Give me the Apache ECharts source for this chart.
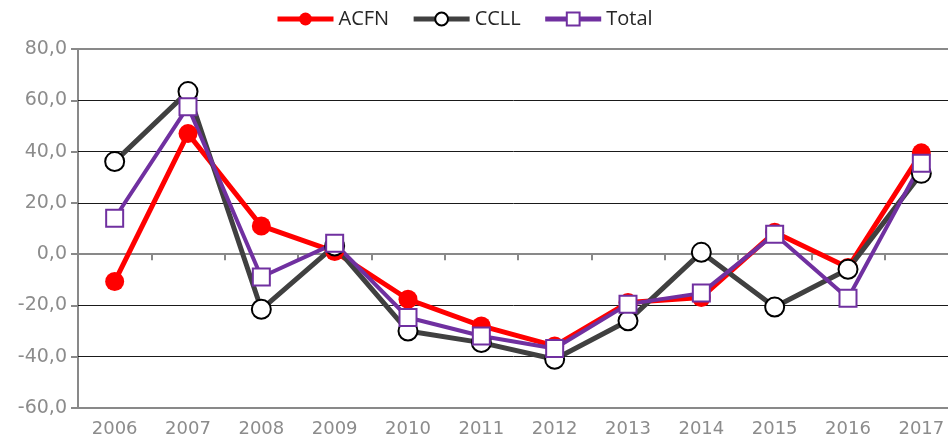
<!DOCTYPE html>
<html>
<head>
<meta charset="utf-8">
<script src="https://cdn.jsdelivr.net/npm/echarts@6/dist/echarts.min.js"></script>
<style>
  html, body { margin: 0; padding: 0; background: #fff; overflow: hidden; }
  #chart { width: 948px; height: 448px; }
</style>
</head>
<body>
<div id="chart"></div>
<script>
const years = ['2006', '2007', '2008', '2009', '2010', '2011', '2012', '2013', '2014', '2015', '2016', '2017']
const acfn = [-10.7, 47.0, 11.0, 1.0, -17.6, -28.0, -35.8, -18.9, -16.9, 8.5, -5.2, 39.5]
const ccll = [36.1, 63.4, -21.5, 3.2, -30.0, -34.5, -41.0, -26.0, 0.7, -20.6, -5.9, 31.5]
const total = [14.0, 57.5, -8.9, 4.2, -24.7, -31.9, -36.8, -19.5, -15.2, 7.8, -17.2, 35.4]

const chart = echarts.init(document.getElementById('chart'))

const gray = '#898989'
const labelFont = { color: '#8c8c8c', fontFamily: 'DejaVu Sans', fontSize: 18 }

chart.setOption({
  animation: false,
  legend: {
    left: 270,
    top: 4,
    itemWidth: 56,
    itemHeight: 16,
    itemGap: 22,
    lineStyle: { width: 5 },
    textStyle: { color: '#262626', fontFamily: 'Open Sans', fontSize: 20 },
    data: ['ACFN', 'CCLL', 'Total']
  },
  grid: {
    left: 78,
    right: -10,
    top: 49,
    bottom: 40,
    outerBoundsMode: 'none',
    containLabel: false,
    show: true,
    borderColor: gray,
    borderWidth: 2
  },
  xAxis: [
    {
      type: 'category',
      data: years,
      position: 'bottom',
      axisLine: { onZero: false, show: false },
      axisTick: { show: false },
      axisLabel: { ...labelFont, margin: 12 },
      splitLine: { show: false }
    },
    {
      type: 'category',
      data: years,
      position: 'bottom',
      axisLine: { onZero: true, lineStyle: { color: gray, width: 2 } },
      axisTick: { show: true, length: 6, lineStyle: { color: gray, width: 2 } },
      axisLabel: { show: false }
    }
  ],
  yAxis: {
    type: 'value',
    min: -60,
    max: 80,
    interval: 20,
    axisLine: { show: false },
    axisTick: { show: true, length: 7, lineStyle: { color: gray, width: 2 } },
    axisLabel: { ...labelFont, fontSize: 19, margin: 11, formatter: (v) => v.toFixed(1).replace('.', ',') },
    splitLine: {
      lineStyle: {
        color: [gray, '#1a1a1a', '#1a1a1a', 'transparent', '#1a1a1a', '#1a1a1a', '#1a1a1a', gray],
        width: 1
      }
    }
  },
  series: [
    {
      name: 'ACFN',
      type: 'line',
      data: acfn,
      symbol: 'circle',
      symbolSize: 19,
      lineStyle: { color: '#ff0000', width: 5 },
      itemStyle: { color: '#ff0000', borderColor: '#ff0000', borderWidth: 0 }
    },
    {
      name: 'CCLL',
      type: 'line',
      data: ccll,
      symbol: 'circle',
      symbolSize: 19,
      lineStyle: { color: '#404040', width: 5 },
      itemStyle: { color: '#ffffff', borderColor: '#000000', borderWidth: 2 }
    },
    {
      name: 'Total',
      type: 'line',
      data: total,
      symbol: 'rect',
      symbolSize: 17,
      lineStyle: { color: '#7030a0', width: 4 },
      itemStyle: { color: '#ffffff', borderColor: '#7030a0', borderWidth: 2 }
    }
  ]
})
</script>
</body>
</html>
